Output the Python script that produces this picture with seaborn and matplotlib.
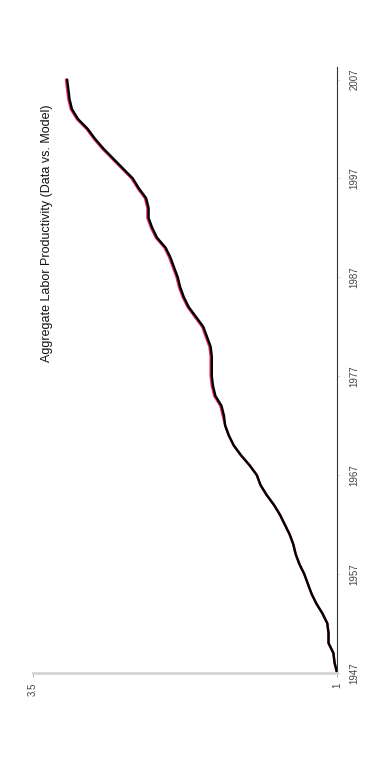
"""
Aggregate labor productivity, data vs. model (page scanned sideways)
"""
import numpy as np
import pandas as pd
import matplotlib
matplotlib.use('Agg')
import matplotlib.pyplot as plt
import seaborn as sns

years = list(range(1947, 2008))

data = [1.00, 1.02, 1.03, 1.07, 1.07, 1.08, 1.12, 1.17, 1.21, 1.24,
        1.27, 1.31, 1.34, 1.36, 1.39, 1.43, 1.47, 1.52, 1.58, 1.63,
        1.66, 1.72, 1.79, 1.85, 1.89, 1.92, 1.93, 1.95, 2.00, 2.02,
        2.03, 2.03, 2.03, 2.04, 2.07, 2.10, 2.16, 2.22, 2.26, 2.29,
        2.31, 2.34, 2.37, 2.41, 2.48, 2.52, 2.55, 2.55, 2.57, 2.63,
        2.68, 2.76, 2.84, 2.92, 2.99, 3.05, 3.13, 3.18, 3.20, 3.21,
        3.22]

model = [1.00, 1.02, 1.03, 1.07, 1.07, 1.08, 1.12, 1.17, 1.21, 1.24,
         1.27, 1.31, 1.34, 1.36, 1.39, 1.43, 1.47, 1.52, 1.58, 1.63,
         1.66, 1.72, 1.79, 1.85, 1.89, 1.92, 1.94, 1.96, 2.01, 2.03,
         2.04, 2.04, 2.04, 2.05, 2.08, 2.11, 2.17, 2.23, 2.27, 2.30,
         2.32, 2.35, 2.38, 2.42, 2.49, 2.53, 2.56, 2.56, 2.58, 2.64,
         2.69, 2.77, 2.85, 2.93, 3.00, 3.06, 3.14, 3.19, 3.21, 3.22,
         3.23]

year_ticks = [1947, 1957, 1967, 1977, 1987, 1997, 2007]
value_ticks = [1, 3.5]
value_labels = ['1', '3.5']

sns.set_theme(style='white')
plt.rcParams['font.family'] = ['Liberation Sans', 'DejaVu Sans']

df = pd.DataFrame({'Year': years, 'Data': data, 'Model': model})

fig = plt.figure(figsize=(3.72, 7.76), dpi=100)
ax = fig.add_axes([0.089, 0.133, 0.817, 0.781])

# the figure is turned on its side: years run up, values run left
sns.lineplot(x='Model', y='Year', data=df, sort=False, orient='y',
             color='#e8305a', lw=1.7, ax=ax)
sns.lineplot(x='Data', y='Year', data=df, sort=False, orient='y',
             color='black', lw=1.7, ax=ax)

ax.set_xlim(3.5, 1)
ax.set_ylim(1947, 2008.3)
ax.set_xlabel('')
ax.set_ylabel('')

ax.set_xticks(value_ticks)
ax.set_xticklabels(value_labels, rotation=90, fontsize=7, color='#444444')
ax.set_yticks(year_ticks)
ax.set_yticklabels([str(y) for y in year_ticks], rotation=90, va='center',
                   fontsize=7, color='#444444')
ax.yaxis.tick_right()
ax.tick_params(axis='x', bottom=True, length=3, width=0.6, color='#999999', pad=4)
ax.tick_params(axis='y', right=True, length=2, width=0.5, color='#cccccc', pad=7)

for s in ['top', 'left']:
    ax.spines[s].set_visible(False)
ax.spines['right'].set_color('#333333')
ax.spines['right'].set_linewidth(0.8)
ax.spines['bottom'].set_color('#d5d5d5')
ax.spines['bottom'].set_linewidth(2)

fig.text(0.127, 0.70, 'Aggregate Labor Productivity (Data vs. Model)',
         rotation=90, ha='center', va='center', fontsize=9, color='#111111')

fig.savefig('out.png', dpi=100, facecolor='white')
